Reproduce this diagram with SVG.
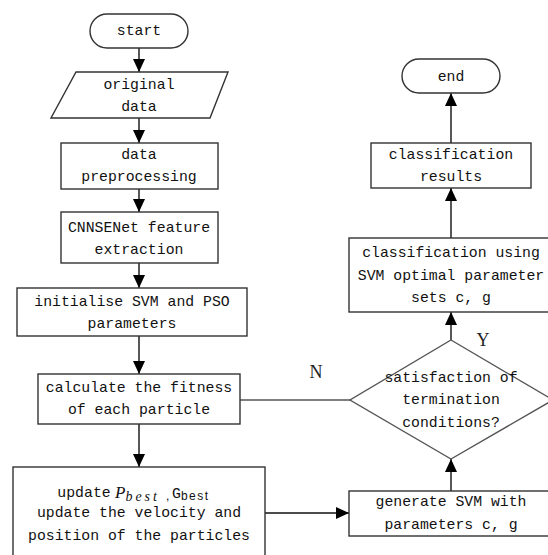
<svg xmlns="http://www.w3.org/2000/svg" width="548" height="555" viewBox="0 0 548 555">
<style>
.box{fill:#fff;stroke:#333;stroke-width:1.4}
.t{font-family:"Liberation Mono","DejaVu Sans Mono",monospace;font-size:14.8px;fill:#111;text-anchor:middle;dominant-baseline:central}
.lbl{font-family:"Liberation Serif","DejaVu Serif",serif;font-size:18px;fill:#222;text-anchor:middle;dominant-baseline:central}
.c{stroke:#111;stroke-width:1.4;fill:none}
</style>
<defs>
<marker id="ah" markerUnits="userSpaceOnUse" markerWidth="14" markerHeight="13" refX="13" refY="6" orient="auto">
<path d="M0,0 L13,6 L0,12 z" fill="#000"/>
</marker>
</defs>
<rect width="548" height="555" fill="#fff"/>
<g id="connectors">
<line class="c" x1="139" y1="48" x2="139" y2="72" marker-end="url(#ah)"/>
<line class="c" x1="139" y1="118" x2="139" y2="143" marker-end="url(#ah)"/>
<line class="c" x1="139" y1="189" x2="139" y2="212" marker-end="url(#ah)"/>
<line class="c" x1="139" y1="263" x2="139" y2="288" marker-end="url(#ah)"/>
<line class="c" x1="139" y1="336" x2="139" y2="374" marker-end="url(#ah)"/>
<line class="c" x1="139" y1="424" x2="139" y2="467" marker-end="url(#ah)"/>
<line class="c" x1="265" y1="513" x2="349" y2="513" marker-end="url(#ah)"/>
<line class="c" x1="451" y1="491" x2="451" y2="459" marker-end="url(#ah)"/>
<line class="c" x1="451" y1="340" x2="451" y2="312" marker-end="url(#ah)"/>
<line class="c" x1="451" y1="238" x2="451" y2="188" marker-end="url(#ah)"/>
<line class="c" x1="451" y1="143" x2="451" y2="93" marker-end="url(#ah)"/>
<line x1="240" y1="400" x2="350" y2="400" stroke="#555" stroke-width="1.4"/>
<text class="lbl" x="316" y="372">N</text>
<text class="lbl" x="483" y="340">Y</text>
</g>
<g id="start">
<rect class="box" x="90" y="14" width="98" height="34" rx="17"/>
<text class="t" x="139" y="31">start</text>
</g>
<g id="original-data">
<polygon class="box" points="76,72 228,72 210,118 51,118"/>
<text class="t" x="139" y="85">original</text>
<text class="t" x="139" y="107">data</text>
</g>
<g id="preprocessing">
<rect class="box" x="61" y="143" width="157" height="46"/>
<text class="t" x="139" y="155">data</text>
<text class="t" x="139" y="177">preprocessing</text>
</g>
<g id="feature-extraction">
<rect class="box" x="61" y="212" width="157" height="51"/>
<text class="t" x="139" y="228">CNNSENet feature</text>
<text class="t" x="139" y="250">extraction</text>
</g>
<g id="initialise">
<rect class="box" x="17" y="288" width="230" height="48"/>
<text class="t" x="132" y="302">initialise SVM and PSO</text>
<text class="t" x="132" y="324">parameters</text>
</g>
<g id="fitness">
<rect class="box" x="38" y="374" width="202" height="50"/>
<text class="t" x="139" y="388">calculate the fitness</text>
<text class="t" x="139" y="410">of each particle</text>
</g>
<g id="update">
<rect class="box" x="13" y="467" width="252" height="100"/>
<text class="t" x="84" y="493">update</text>
<text x="115" y="498" font-family="Liberation Serif,serif" font-style="italic" font-size="17px" fill="#111">P<tspan font-size="14px" dy="3" letter-spacing="3">best</tspan></text>
<text x="166" y="500" font-family="Liberation Sans,sans-serif" font-size="12px" fill="#111">,</text>
<text x="172" y="498" font-family="Liberation Mono,monospace" font-size="14.8px" fill="#111">G<tspan font-family="Liberation Sans,sans-serif" font-size="12px" dy="2" letter-spacing="1.5">best</tspan></text>
<text class="t" x="139" y="513">update the velocity and</text>
<text class="t" x="139" y="536">position of the particles</text>
</g>
<g id="generate">
<rect class="box" x="349" y="491" width="204" height="45"/>
<text class="t" x="451" y="502">generate SVM with</text>
<text class="t" x="451" y="525">parameters c, g</text>
</g>
<g id="termination">
<polygon class="box" points="451,340 553,400 451,459 350,400" style="stroke:#555"/>
<text class="t" x="451" y="378">satisfaction of</text>
<text class="t" x="451" y="400">termination</text>
<text class="t" x="451" y="423">conditions?</text>
</g>
<g id="classification">
<rect class="box" x="349" y="238" width="204" height="74"/>
<text class="t" x="451" y="253">classification using</text>
<text class="t" x="451" y="276">SVM optimal parameter</text>
<text class="t" x="451" y="298">sets c, g</text>
</g>
<g id="results">
<rect class="box" x="371" y="143" width="160" height="45"/>
<text class="t" x="451" y="155">classification</text>
<text class="t" x="451" y="177">results</text>
</g>
<g id="end">
<rect class="box" x="402" y="59" width="98" height="34" rx="17"/>
<text class="t" x="451" y="77">end</text>
</g>
</svg>
